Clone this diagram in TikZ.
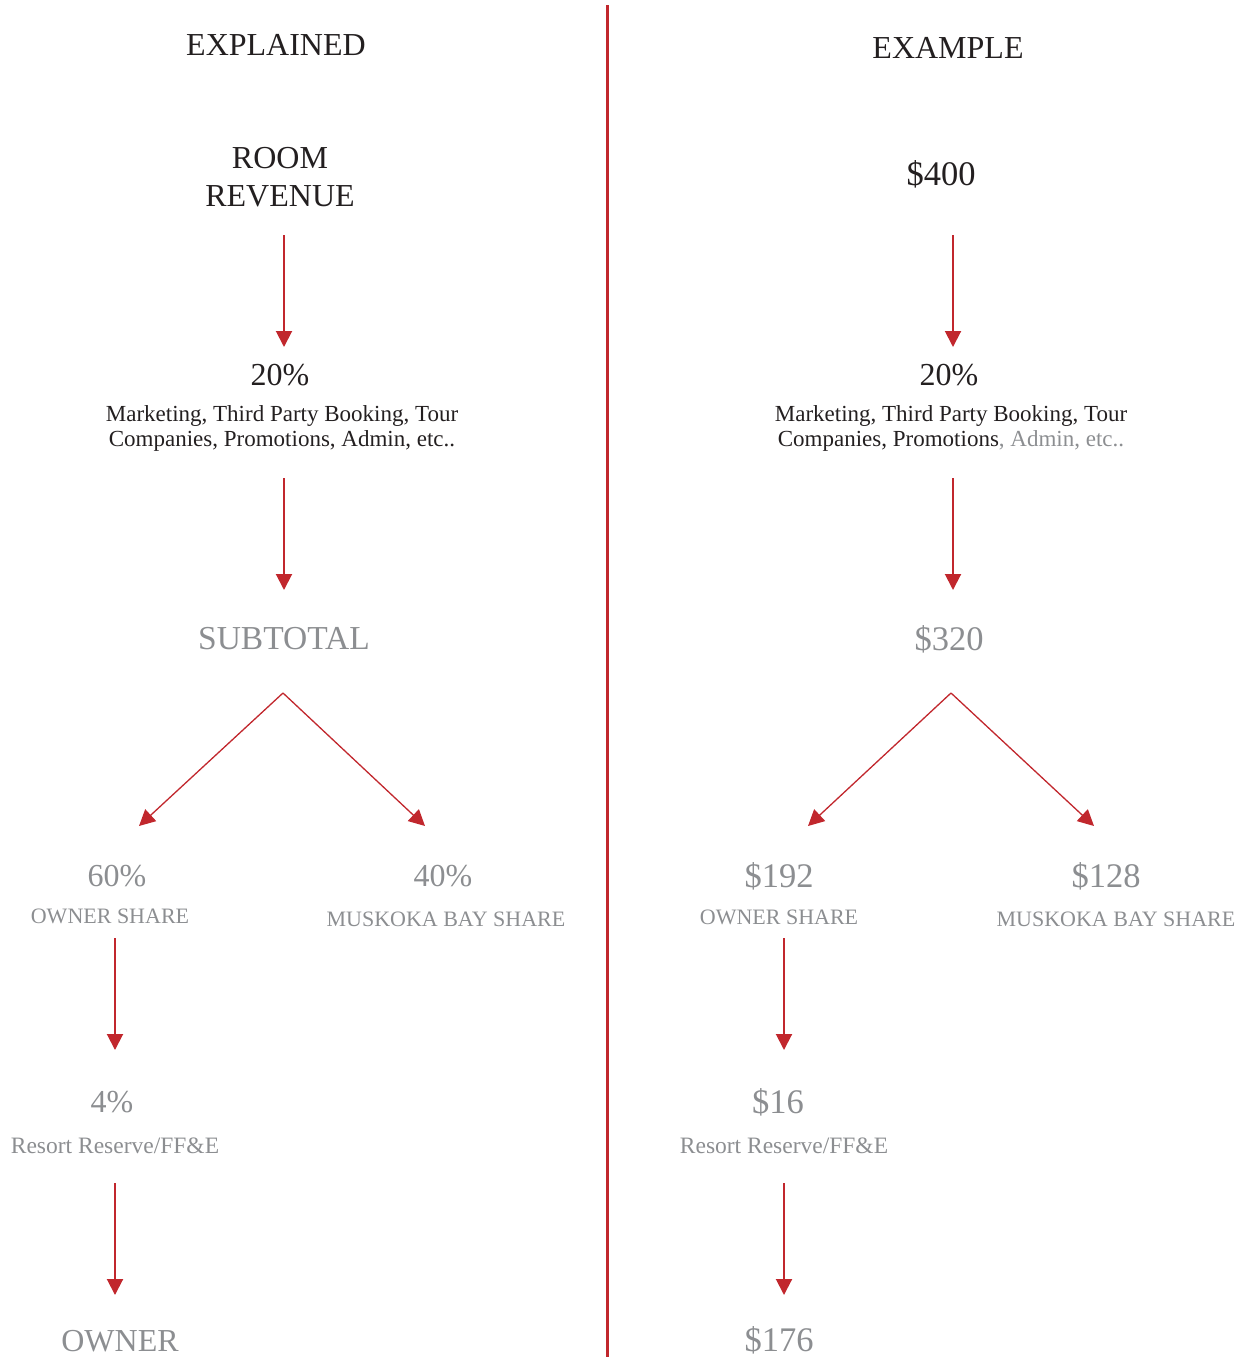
\documentclass[tikz,border=0pt]{standalone}
\usepackage{fontspec}
\setmainfont{Liberation Serif}
\usetikzlibrary{arrows.meta}
\definecolor{darkred}{RGB}{193,39,45}
\definecolor{textgray}{RGB}{140,142,145}
\definecolor{textblack}{RGB}{35,31,32}

\begin{document}
\begin{tikzpicture}[x = 1pt, y = -1pt]
	\tikzstyle{bigStyle} = [inner sep = 0pt, align = center, font = \fontsize{32}{38}\selectfont, text = textblack]
	\tikzstyle{greyStyle} = [bigStyle, text = textgray]
	\tikzstyle{moneyStyle} = [bigStyle, font = \fontsize{34.5}{38}\selectfont]
	\tikzstyle{smallStyle} = [inner sep = 0pt, align = center, font = \fontsize{23}{25}\selectfont, text = textblack]
	\tikzstyle{smallGreyStyle} = [smallStyle, text = textgray, font = \fontsize{22}{25}\selectfont]
	\tikzstyle{arrowStyle} = [draw = darkred, line width = 2pt, -{Triangle[length = 16pt, width = 16pt]}]
	\tikzstyle{splitStyle} = [arrowStyle, line width = 1.3pt]
	\useasboundingbox (0, 0) rectangle (1248, 1357);
	% divider
	\draw[darkred, line width = 3pt] (607.5, 5) -- (607.5, 1357);
	% explained
	\node[bigStyle] (e0) at (276, 45) {EXPLAINED};
	\node[bigStyle] (e1) at (280, 177) {ROOM\\REVENUE};
	\node[bigStyle] (e2) at (280, 375) {20\%};
	\node[smallStyle] (e3) at (282, 428) {Marketing, Third Party Booking, Tour\\Companies, Promotions, Admin, etc..};
	\node[greyStyle, font = \fontsize{33.5}{38}\selectfont] (e4) at (284, 639) {SUBTOTAL};
	\node[greyStyle] (e5) at (117, 876) {60\%};
	\node[smallGreyStyle] (e6) at (110, 916) {OWNER SHARE};
	\node[greyStyle] (e7) at (443, 876) {40\%};
	\node[smallGreyStyle] (e8) at (446, 919) {MUSKOKA BAY SHARE};
	\node[greyStyle] (e9) at (112, 1102) {4\%};
	\node[smallGreyStyle, font = \fontsize{23.5}{25}\selectfont] (e10) at (115, 1146) {Resort Reserve/FF\&E};
	\node[greyStyle] (e11) at (120, 1341) {OWNER};
	\coordinate (ea0) at (284, 235);
	\coordinate (ea1) at (284, 347);
	\coordinate (eb0) at (284, 478);
	\coordinate (eb1) at (284, 590);
	\coordinate (es) at (283, 693);
	\coordinate (esl) at (139, 826);
	\coordinate (esr) at (425, 826);
	\coordinate (ec0) at (115, 938);
	\coordinate (ec1) at (115, 1050);
	\coordinate (ed0) at (115, 1183);
	\coordinate (ed1) at (115, 1295);
	\draw[arrowStyle] (ea0) -- (ea1);
	\draw[arrowStyle] (eb0) -- (eb1);
	\draw[splitStyle] (es) -- (esl);
	\draw[splitStyle] (es) -- (esr);
	\draw[arrowStyle] (ec0) -- (ec1);
	\draw[arrowStyle] (ed0) -- (ed1);
	% example
	\node[bigStyle] (x0) at (948, 48) {EXAMPLE};
	\node[moneyStyle] (x1) at (941, 174) {\$400};
	\node[bigStyle] (x2) at (949, 375) {20\%};
	\node[smallStyle] (x3) at (951, 428) {Marketing, Third Party Booking, Tour\\Companies, Promotions\textcolor{textgray}{, Admin, etc..}};
	\node[moneyStyle, text = textgray] (x4) at (949, 639) {\$320};
	\node[moneyStyle, text = textgray] (x5) at (779, 876) {\$192};
	\node[smallGreyStyle] (x6) at (779, 917) {OWNER SHARE};
	\node[moneyStyle, text = textgray] (x7) at (1106, 876) {\$128};
	\node[smallGreyStyle] (x8) at (1116, 919) {MUSKOKA BAY SHARE};
	\node[moneyStyle, text = textgray] (x9) at (778, 1102) {\$16};
	\node[smallGreyStyle, font = \fontsize{23.5}{25}\selectfont] (x10) at (784, 1146) {Resort Reserve/FF\&E};
	\node[moneyStyle, text = textgray] (x11) at (779, 1340) {\$176};
	\coordinate (xa0) at (953, 235);
	\coordinate (xa1) at (953, 347);
	\coordinate (xb0) at (953, 478);
	\coordinate (xb1) at (953, 590);
	\coordinate (xs) at (951, 693);
	\coordinate (xsl) at (808, 826);
	\coordinate (xsr) at (1094, 826);
	\coordinate (xc0) at (784, 938);
	\coordinate (xc1) at (784, 1050);
	\coordinate (xd0) at (784, 1183);
	\coordinate (xd1) at (784, 1295);
	\draw[arrowStyle] (xa0) -- (xa1);
	\draw[arrowStyle] (xb0) -- (xb1);
	\draw[splitStyle] (xs) -- (xsl);
	\draw[splitStyle] (xs) -- (xsr);
	\draw[arrowStyle] (xc0) -- (xc1);
	\draw[arrowStyle] (xd0) -- (xd1);
\end{tikzpicture}
\end{document}
